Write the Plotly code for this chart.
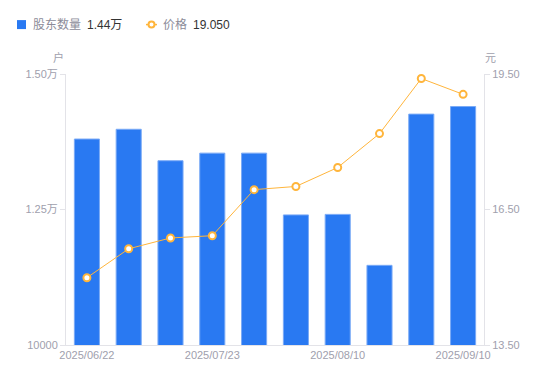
import plotly.graph_objects as go

dates = ["2025/06/22", "2025/06/30", "2025/07/10", "2025/07/23", "2025/07/31",
         "2025/08/05", "2025/08/10", "2025/08/20", "2025/08/31", "2025/09/10"]
holders = [13800, 13980, 13400, 13540, 13540, 12400, 12410, 11470, 14260, 14400]
prices = [14.99, 15.63, 15.87, 15.92, 16.94, 17.01, 17.43, 18.18, 19.40, 19.05]
x_tick_dates = ["2025/06/22", "2025/07/23", "2025/08/10", "2025/09/10"]
left_ticks = [10000, 12500, 15000]
left_ticktext = ["10000", "1.25万", "1.50万"]
right_ticks = [13.5, 16.5, 19.5]

W, H = 550, 381
PL, PR, PT, PB = 66, 484, 74, 345.5   # plot area in window pixels
ML, MR, MT, MB = PL, W - PR, PT, H - PB
PW, PH = W - ML - MR, H - MT - MB

def px(x):
    return (x - PL) / PW

def py(y):
    return 1 - (y - PT) / PH

FONT = "Liberation Sans, Arial, Noto Sans CJK SC, sans-serif"
GRAY = "#a0a0ad"
AXIS = "#e3e3e8"
BLUE = "#2979f2"
ORANGE = "#ffb53b"

fig = go.Figure()
fig.add_trace(go.Bar(
    x=dates, y=holders, name="股东数量",
    marker=dict(color=BLUE, line=dict(color="#7aaaf6", width=1)),
    yaxis="y", showlegend=False,
))
fig.add_trace(go.Scatter(
    x=dates, y=prices, name="价格", mode="lines+markers",
    line=dict(color=ORANGE, width=1),
    marker=dict(size=7, color="white", line=dict(color=ORANGE, width=2)),
    yaxis="y2", showlegend=False,
))

def fmt_wan(v):
    return f"{v/10000:.2f}万" if v >= 10000 else str(v)

annos = [
    dict(x=px(31), y=py(24.5), text="股东数量", font=dict(size=12, color="#8c8c99")),
    dict(x=px(85), y=py(24.5), text=fmt_wan(holders[-1]), font=dict(size=12, color="#333333")),
    dict(x=px(161), y=py(24.5), text="价格", font=dict(size=12, color="#8c8c99")),
    dict(x=px(191), y=py(24.5), text=f"{prices[-1]:.3f}", font=dict(size=12, color="#333333")),
    dict(x=px(58), y=py(57.5), text="户", font=dict(size=11, color=GRAY), xanchor="center"),
    dict(x=px(490.5), y=py(57.5), text="元", font=dict(size=11, color=GRAY), xanchor="center"),
]
annotations = []
for a in annos:
    d = dict(xref="paper", yref="paper", showarrow=False, xanchor="left", yanchor="middle")
    d.update(a)
    annotations.append(d)

shapes = [
    dict(type="rect", xref="paper", yref="paper", x0=px(17), x1=px(26), y0=py(20), y1=py(29),
         fillcolor=BLUE, line=dict(width=0)),
    dict(type="line", xref="paper", yref="paper", x0=px(146), x1=px(157), y0=py(24.5), y1=py(24.5),
         line=dict(color=ORANGE, width=1.5)),
    dict(type="circle", xref="paper", yref="paper", x0=px(148.5), x1=px(154.5), y0=py(21.5), y1=py(27.5),
         fillcolor="white", line=dict(color=ORANGE, width=2)),
]

fig.update_layout(
    width=W, height=H,
    margin=dict(l=ML, r=MR, t=MT, b=MB, autoexpand=False),
    paper_bgcolor="white", plot_bgcolor="white",
    font=dict(family=FONT, size=11, color=GRAY),
    bargap=0.4,
    showlegend=False,
    hovermode=False,
    xaxis=dict(
        type="category", tickmode="array", tickvals=x_tick_dates, ticktext=x_tick_dates,
        range=[-0.5, len(dates) - 0.5],
        showline=True, linecolor=AXIS, linewidth=1, showgrid=False, ticks="",
        tickfont=dict(size=11, color=GRAY), zeroline=False, automargin=False,
    ),
    yaxis=dict(
        range=[10000, 15000], tickmode="array", tickvals=left_ticks, ticktext=left_ticktext,
        showline=True, linecolor=AXIS, linewidth=1, showgrid=False, zeroline=False,
        ticks="outside", ticklen=5, tickcolor=AXIS, tickfont=dict(size=11, color=GRAY),
        automargin=False,
    ),
    yaxis2=dict(
        range=[13.5, 19.5], overlaying="y", side="right", tickmode="array",
        tickvals=right_ticks, ticktext=[f"{v:.2f}" for v in right_ticks],
        showline=True, linecolor=AXIS, linewidth=1, showgrid=False, zeroline=False,
        ticks="outside", ticklen=5, tickcolor=AXIS, tickfont=dict(size=11, color=GRAY),
        automargin=False,
    ),
    annotations=annotations,
    shapes=shapes,
)

fig.write_html(
    "out.html",
    config={"displayModeBar": False, "staticPlot": True},
    post_script="document.body.style.margin='0';document.body.style.overflow='hidden';",
)
